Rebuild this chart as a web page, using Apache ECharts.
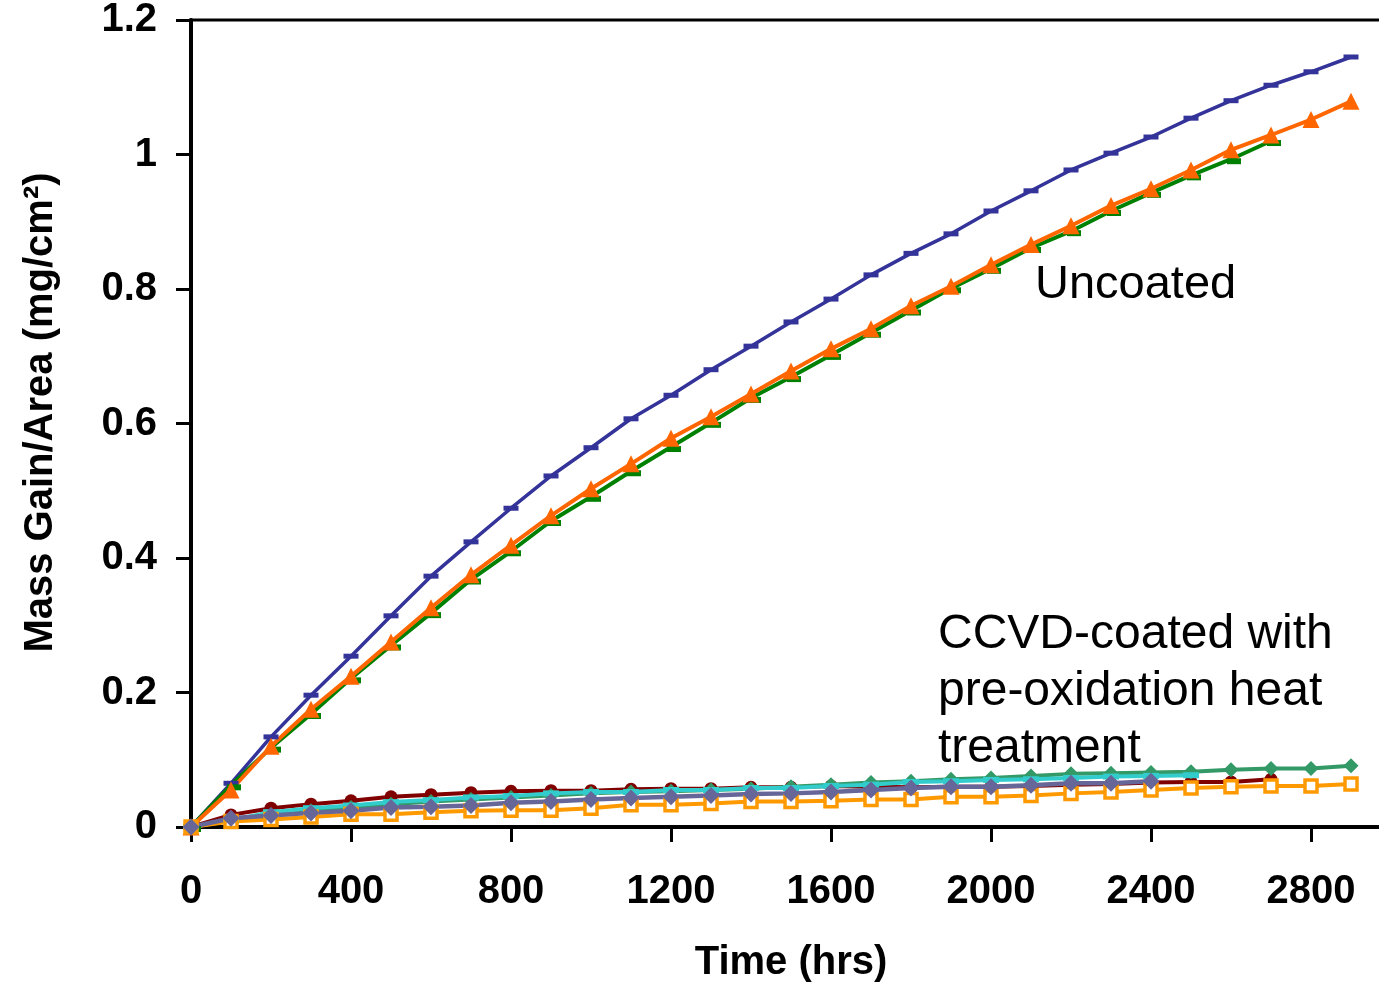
<!DOCTYPE html>
<html>
<head>
<meta charset="utf-8">
<script src="https://cdn.jsdelivr.net/npm/echarts@6/dist/echarts.min.js"></script>
<style>
  html, body { margin: 0; padding: 0; background: #fff; }
  #chart { width: 1379px; height: 986px; }
</style>
</head>
<body>
<div id="chart"></div>
<script>
let hours = [0, 100, 200, 300, 400, 500, 600, 700, 800, 900, 1000, 1100, 1200, 1300, 1400,
  1500, 1600, 1700, 1800, 1900, 2000, 2100, 2200, 2300, 2400, 2500, 2600, 2700, 2800, 2900]

// uncoated samples
let uncoatedBlue = [0, 0.065, 0.134, 0.196, 0.254, 0.314, 0.373, 0.424, 0.474, 0.522, 0.564, 0.607, 0.642, 0.680, 0.715,
  0.751, 0.785, 0.821, 0.853, 0.882, 0.916, 0.946, 0.977, 1.002, 1.026, 1.054, 1.080, 1.103, 1.123, 1.145]
let uncoatedOrange = [0, 0.055, 0.120, 0.175, 0.224, 0.275, 0.326, 0.375, 0.419, 0.463, 0.503, 0.540, 0.578, 0.610, 0.644,
  0.678, 0.711, 0.741, 0.775, 0.804, 0.836, 0.866, 0.894, 0.924, 0.949, 0.977, 1.007, 1.029, 1.052, 1.079]
let uncoatedGreen = [0, 0.062, 0.118, 0.168, 0.221, 0.270, 0.318, 0.368, 0.410, 0.455, 0.491, 0.529, 0.565, 0.601, 0.638,
  0.669, 0.702, 0.735, 0.768, 0.801, 0.830, 0.861, 0.886, 0.916, 0.943, 0.969, 0.993, 1.020]

// CCVD-coated samples
let coatedRed = [0, 0.018, 0.028, 0.034, 0.039, 0.045, 0.048, 0.051, 0.053, 0.054, 0.054, 0.056, 0.057, 0.057, 0.059,
  0.059, 0.061, 0.060, 0.059, 0.060, 0.060, 0.061, 0.063, 0.064, 0.066, 0.067, 0.067, 0.071]
let coatedSeaGreen = [0, 0.010, 0.018, 0.024, 0.029, 0.034, 0.038, 0.041, 0.044, 0.047, 0.050, 0.052, 0.053, 0.055, 0.057,
  0.060, 0.063, 0.066, 0.068, 0.071, 0.073, 0.076, 0.079, 0.080, 0.081, 0.082, 0.085, 0.087, 0.087, 0.091]
let coatedCyan = [0, 0.010, 0.022, 0.028, 0.032, 0.037, 0.040, 0.044, 0.046, 0.050, 0.052, 0.052, 0.055, 0.055, 0.058,
  0.058, 0.061, 0.063, 0.067, 0.068, 0.070, 0.071, 0.073, 0.075, 0.076, 0.077]
let coatedSquare = [0, 0.008, 0.011, 0.015, 0.019, 0.019, 0.022, 0.024, 0.025, 0.025, 0.028, 0.033, 0.033, 0.035, 0.038,
  0.038, 0.039, 0.041, 0.041, 0.045, 0.045, 0.047, 0.050, 0.052, 0.055, 0.058, 0.060, 0.061, 0.061, 0.064]
let coatedPurple = [0, 0.013, 0.017, 0.021, 0.024, 0.029, 0.030, 0.032, 0.036, 0.038, 0.041, 0.043, 0.045, 0.047, 0.049,
  0.050, 0.052, 0.055, 0.058, 0.060, 0.060, 0.062, 0.065, 0.065, 0.068]

let xTicks = [0, 400, 800, 1200, 1600, 2000, 2400, 2800]
let yTicks = [0, 0.2, 0.4, 0.6, 0.8, 1, 1.2]

const FONT = 'Liberation Sans, Arial, sans-serif'

function pairs(values) {
  return values.map((v, i) => [hours[i], v])
}

function line(name, values, color, width, symbol, size, extra) {
  return Object.assign({
    name: name,
    type: 'line',
    data: pairs(values),
    symbol: symbol,
    symbolSize: size,
    showAllSymbol: true,
    lineStyle: { color: color, width: width },
    itemStyle: { color: color },
    emphasis: { disabled: true }
  }, extra || {})
}

let chart = echarts.init(document.getElementById('chart'))
chart.setOption({
  animation: false,
  grid: {
    left: 191,
    top: 20,
    right: -12,
    bottom: 159,
    outerBoundsMode: 'none',
    containLabel: false,
    show: true,
    borderColor: '#000',
    borderWidth: 3
  },
  xAxis: {
    type: 'value',
    min: 0,
    max: 3000,
    interval: 400,
    name: 'Time (hrs)',
    nameLocation: 'middle',
    nameGap: 116,
    nameTextStyle: { fontFamily: FONT, fontWeight: 'bold', fontSize: 40, color: '#000' },
    axisLine: { lineStyle: { color: '#000', width: 4 } },
    axisTick: { show: true, length: 15, lineStyle: { color: '#000', width: 3 } },
    axisLabel: {
      margin: 45,
      fontFamily: FONT,
      fontWeight: 'bold',
      fontSize: 40,
      color: '#000',
      showMaxLabel: false,
      formatter: v => xTicks.indexOf(v) >= 0 ? String(v) : ''
    },
    splitLine: { show: false }
  },
  yAxis: {
    type: 'value',
    min: 0,
    max: 1.2,
    interval: 0.2,
    name: 'Mass Gain/Area (mg/cm²)',
    nameLocation: 'middle',
    nameGap: 130,
    nameRotate: 90,
    nameTextStyle: { fontFamily: FONT, fontWeight: 'bold', fontSize: 40, color: '#000', padding: [0, 0, 0, 22] },
    axisLine: { show: true, lineStyle: { color: '#000', width: 4 } },
    axisTick: { show: true, length: 15, lineStyle: { color: '#000', width: 3 } },
    axisLabel: {
      margin: 34,
      fontFamily: FONT,
      fontWeight: 'bold',
      fontSize: 40,
      color: '#000',
      formatter: v => {
        let t = yTicks.find(y => Math.abs(y - v) < 1e-6)
        return t === undefined ? '' : String(t)
      }
    },
    splitLine: { show: false }
  },
  series: [
    line('Uncoated A', uncoatedBlue, '#333399', 3.5, 'rect', [15, 5]),
    line('Uncoated C', uncoatedGreen, '#008000', 4, 'rect', [14, 6], { symbolOffset: [3, 2] }),
    line('Uncoated B', uncoatedOrange, '#FF6600', 4, 'triangle', 17),
    line('Coated A', coatedRed, '#800000', 4, 'circle', 13),
    line('Coated B', coatedSeaGreen, '#339966', 4, 'diamond', 15),
    line('Coated C', coatedCyan, '#33CCCC', 4, 'rect', [16, 6]),
    line('Coated D', coatedSquare, '#FF9900', 4, 'rect', 12, {
      itemStyle: { color: '#fff', borderColor: '#FF9900', borderWidth: 3.5 }
    }),
    line('Coated E', coatedPurple, '#666699', 4.5, 'diamond', 17)
  ],
  graphic: [
    {
      type: 'text',
      x: 1035,
      y: 285,
      style: {
        text: 'Uncoated',
        font: '47px ' + FONT,
        fill: '#000',
        align: 'left',
        verticalAlign: 'middle'
      }
    },
    {
      type: 'text',
      x: 938,
      y: 606,
      style: {
        text: 'CCVD-coated with\npre-oxidation heat\ntreatment',
        font: '48px ' + FONT,
        lineHeight: 57,
        fill: '#000',
        align: 'left',
        verticalAlign: 'top'
      }
    }
  ]
})
</script>
</body>
</html>
